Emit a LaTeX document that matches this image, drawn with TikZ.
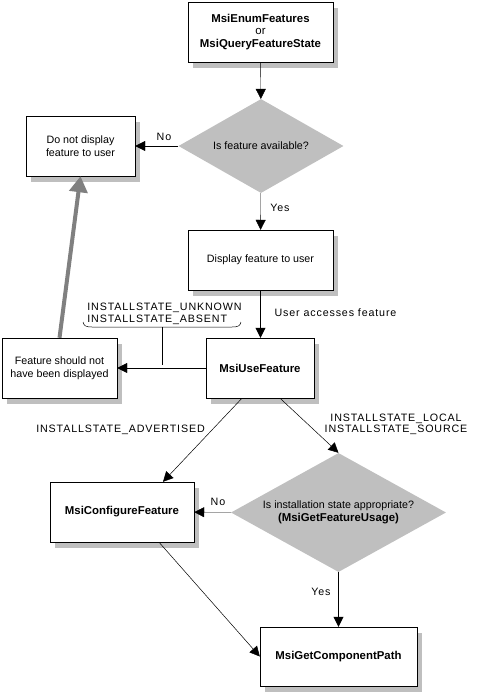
\documentclass[tikz,border=0pt]{standalone}
\usepackage{fontspec}
\setmainfont{Liberation Sans}
\newfontfamily\lblfont[LetterSpace=8]{Liberation Sans}
\usetikzlibrary{shapes.geometric,shadows,arrows.meta,calc}
\begin{document}
\begin{tikzpicture}[x=1pt,y=-1pt,
  box/.style={draw,fill=white,inner sep=0pt,align=center,font=\fontsize{10.7}{13}\selectfont,
    drop shadow={shadow xshift=5pt,shadow yshift=-6pt,fill=black!25,opacity=1}},
  api/.style={font=\fontsize{11.4}{12.5}\selectfont\bfseries},
  decision/.style={diamond,fill=black!25,inner sep=0pt,align=center,font=\fontsize{10.7}{13}\selectfont},
  lbl/.style={font=\fontsize{10.7}{11.5}\lblfont,inner sep=0pt,align=center},
  flow/.style={-{Triangle[length=10pt,width=10pt]}},
  thinflow/.style={-{Triangle[length=10pt,width=10pt]},line width=0.5pt},
  back/.style={draw=black!50,line width=4pt,-{Triangle[length=16pt,width=18pt]}}]
\useasboundingbox (0,0) rectangle (486,694);
% boxes and decisions
\node[box,api,minimum width=145pt,minimum height=60pt] (enum) at (260.5,32) {MsiEnumFeatures\\{\mdseries or}\\MsiQueryFeatureState};
\node[decision,aspect=1.76,minimum width=165pt,minimum height=94pt] (avail) at (261,146) {Is feature available?};
\node[box,minimum width=109pt,minimum height=60pt] (hide) at (80.5,146) {Do not display\\feature to user};
\node[box,minimum width=145pt,minimum height=60pt] (show) at (260.5,260) {Display feature to user};
\node[box,api,minimum width=108pt,minimum height=60pt] (use) at (260,368) {MsiUseFeature};
\node[box,minimum width=115pt,minimum height=60pt] (wrong) at (59.5,368) {Feature should not\\have been displayed};
\node[box,api,minimum width=144pt,minimum height=60pt] (conf) at (122,512) {MsiConfigureFeature};
\node[decision,aspect=1.8,minimum width=215pt,minimum height=119pt] (state) at (338.5,512.5) {Is installation state appropriate?\\{\fontsize{11.4}{13}\selectfont\bfseries (MsiGetFeatureUsage)}};
\node[box,api,minimum width=157pt,minimum height=59pt] (path) at (338.5,656.5) {MsiGetComponentPath};
% labels
\node[lbl] (no1) at (164,137) {No};
\node[lbl] (yes1) at (280,208) {Yes};
\node[lbl] (access) at (335.5,313) {User accesses feature};
\node[lbl,align=left] (absent) at (164.5,314) {INSTALLSTATE\_UNKNOWN\\INSTALLSTATE\_ABSENT};
\node[lbl] (adv) at (120.5,430) {INSTALLSTATE\_ADVERTISED};
\node[lbl] (local) at (396,424.5) {INSTALLSTATE\_LOCAL\\INSTALLSTATE\_SOURCE};
\node[lbl] (no2) at (218,502) {No};
\node[lbl] (yes2) at (321,592) {Yes};
% connectors
\draw[flow] (enum) -- (avail);
\draw[flow] (avail) -- (hide);
\draw[flow] (avail) -- (show);
\draw[flow] (show.south) -- (show.south |- use.north);
\draw[flow] (use) -- (wrong);
\draw[back] (wrong.north) -- (hide.south);
\draw[thinflow] ($(use.south)+(-18,0)$) -- ($(conf.north)+(41,0)$);
\draw[thinflow] ($(use.south)+(20,0)$) -- (state.north);
\draw[flow] (state) -- (conf);
\draw[flow] (state) -- (path);
\draw[thinflow] ($(conf.south)+(37,0)$) -- (path.west);
% brace under the absent states
\coordinate (tap) at (162,327);
\draw[line width=0.5pt] (83,322) .. controls (84,326) and (86,327) .. (92,327) -- (232,327) .. controls (238,327) and (240,326) .. (241,322);
\draw (tap) -- ++(0,38);
\end{tikzpicture}
\end{document}
